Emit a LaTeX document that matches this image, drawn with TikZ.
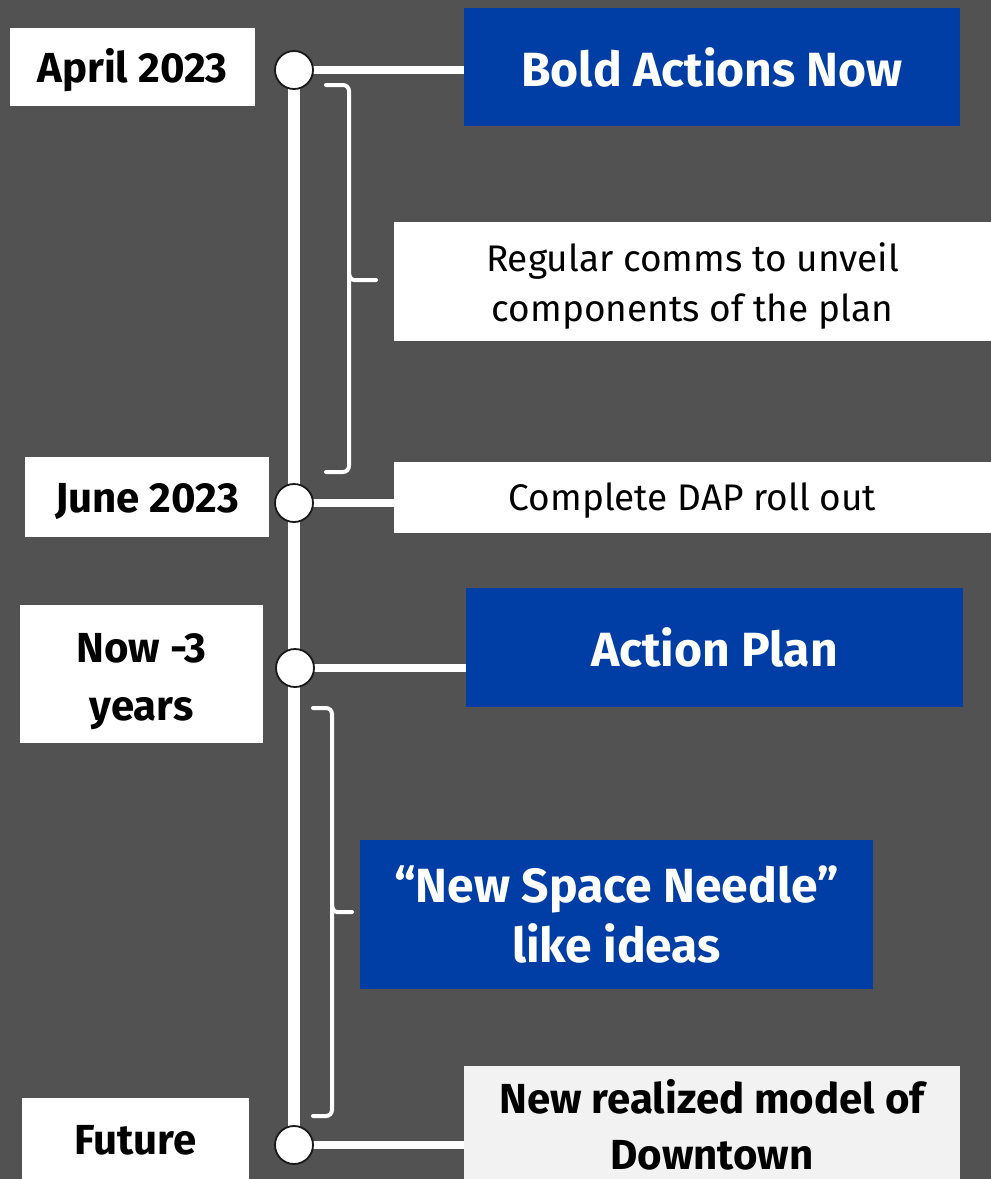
\documentclass[tikz,border=0pt]{standalone}
\usepackage{fontspec}
\setmainfont{Fira Sans}
\definecolor{bg}{RGB}{82,82,82}
\definecolor{navy}{RGB}{0,61,165}
\definecolor{pale}{RGB}{242,242,242}
\tikzset{
  box/.style={rectangle, inner sep=0pt, fill=white},
  bluebox/.style={box, fill=navy},
  datefont/.style={font=\fontsize{42}{58}\selectfont\bfseries, align=center, text=black},
  headfont/.style={font=\fontsize{48}{60}\selectfont\bfseries, align=center, text=white},
  bodyfont/.style={font=\fontsize{37}{50}\selectfont, align=center, text=black},
  dot/.style={circle, draw=black!90, line width=1.8pt, fill=white, minimum size=38pt, inner sep=0pt},
  link/.style={white, line width=8pt},
  spine/.style={white, line width=12pt},
  brace/.style={white, line width=4pt, rounded corners=6pt, line cap=round}
}
\begin{document}
\begin{tikzpicture}[x=1pt,y=-1pt]
\fill[bg] (0,0) rectangle (991,1179);
\useasboundingbox (0,0) rectangle (991,1179);

% left date boxes
\node[box, minimum width=245pt, minimum height=78pt,
  label={[datefont, yshift=-3pt]center:April 2023}] (d1) at (132.5,67) {};
\node[box, minimum width=244pt, minimum height=80pt,
  label={[datefont, yshift=-4pt]center:June 2023}] (d2) at (147,497) {};
\node[box, minimum width=243pt, minimum height=138pt,
  label={[datefont, yshift=-8pt]center:Now -3\\years}] (d3) at (141.5,674) {};
\node[box, minimum width=227pt, minimum height=81pt,
  label={[datefont, yshift=-2pt]center:Future}] (d4) at (135.5,1138.5) {};

% right boxes
\node[bluebox, minimum width=496pt, minimum height=118pt,
  label={[headfont]center:Bold Actions Now}] (b1) at (712,67) {};
\node[box, minimum width=597pt, minimum height=119pt,
  label={[bodyfont, yshift=-5pt]center:Regular comms to unveil\\components of the plan}] (r1) at (692.5,281.5) {};
\node[box, minimum width=597pt, minimum height=71pt,
  label={[bodyfont, yshift=-3pt]center:Complete DAP roll out}] (r2) at (692.5,497.5) {};
\node[bluebox, minimum width=497pt, minimum height=119pt,
  label={[headfont]center:Action Plan}] (b2) at (714.5,647.5) {};
\node[bluebox, minimum width=513pt, minimum height=149pt,
  label={[headfont]center:“New Space Needle”\\like ideas}] (b3) at (616.5,914.5) {};
\node[box, fill=pale, minimum width=496pt, minimum height=124pt,
  label={[datefont, font=\fontsize{42}{56}\selectfont\bfseries, yshift=3pt]center:New realized model of\\Downtown}] (b4) at (712,1128) {};

% dots
\coordinate (c1) at (294,70);
\coordinate (c2) at (294,503);
\coordinate (c3) at (295,668);
\coordinate (c4) at (294,1145);

% spine
\draw[spine] (c1) -- (c4);

% links
\draw[link] (c1) -- (b1.west |- c1);
\draw[link] (c2) -- (r2.west |- c2);
\draw[link] (c3) -- (b2.west |- c3);
\draw[link] (c4) -- (b4.west |- c4);

\node[dot] (n1) at (c1) {};
\node[dot] (n2) at (c2) {};
\node[dot] (n3) at (c3) {};
\node[dot] (n4) at (c4) {};

% braces
\coordinate (t1) at (376,280);
\draw[brace] (326,85) -- (349,85) -- (349,472) -- (326,472);
\draw[brace, rounded corners=3pt] (349,274) -- (351,280) -- (t1);
\coordinate (t2) at (352,912);
\draw[brace] (313,708) -- (332,708) -- (332,1116) -- (313,1116);
\draw[brace, rounded corners=3pt] (332,906) -- (334,912) -- (t2);
\end{tikzpicture}
\end{document}
